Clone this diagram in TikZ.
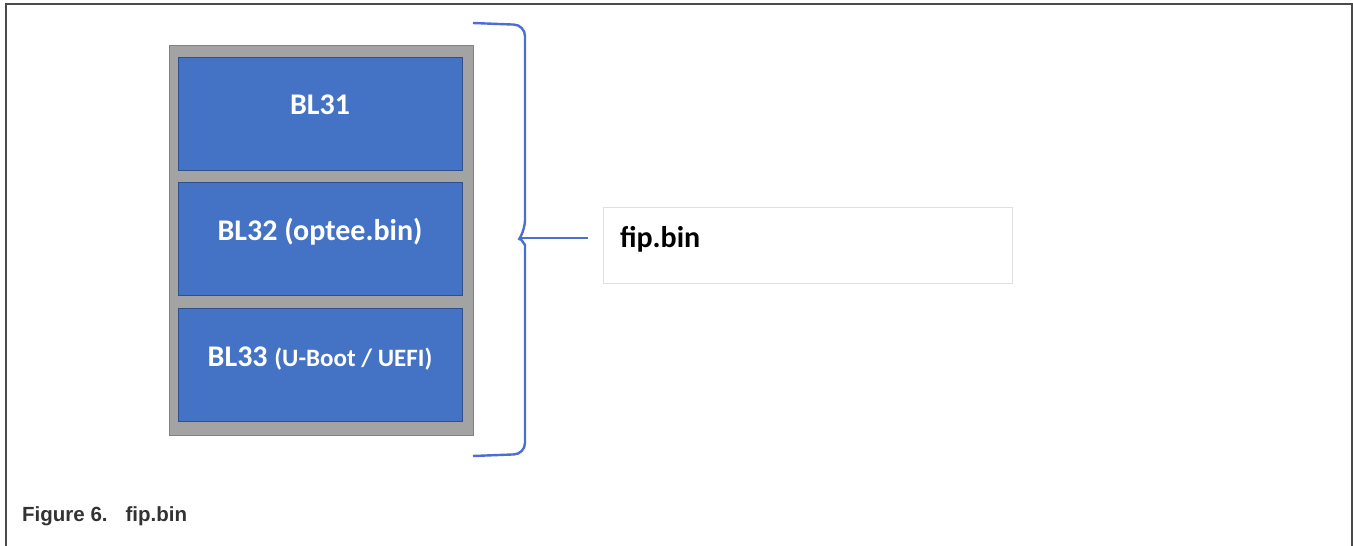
\documentclass[tikz,border=0pt]{standalone}
\usepackage{fontspec}
\setmainfont{Carlito}
\newfontfamily\capfont{Liberation Sans}
\usetikzlibrary{positioning}

\definecolor{blkblue}{HTML}{4472C4}
\definecolor{stackgray}{HTML}{A3A3A3}
\definecolor{bracecol}{HTML}{4A6ED2}
\definecolor{framegray}{HTML}{4A4A4A}
\definecolor{capgray}{HTML}{333333}

\begin{document}
\begin{tikzpicture}[x=1pt, y=-1pt, inner sep=0pt, node distance=12pt,
  stackbox/.style={fill=stackgray, draw=stackgray!80!black, minimum width=304pt, minimum height=390pt},
  blk/.style={fill=blkblue, draw=blkblue!70!black, line width=0.8pt, minimum width=284pt, minimum height=113pt,
    text=white, font=\bfseries\fontsize{30}{34}\selectfont, text height=21pt, text depth=19pt},
  bracel/.style={draw=bracecol, line width=2.4pt},
  fipbox/.style={draw=black!12, fill=white, minimum width=409pt, minimum height=76pt, inner xsep=17pt,
    text width=375pt, align=left, font=\bfseries\fontsize{30}{34}\selectfont, text height=22pt, text depth=18pt}]

\useasboundingbox (0,0) rectangle (1353,546);

% frame
\draw[framegray, line width=2.8pt] (6,546) -- (6,4) -- (1352,4) -- (1352,546);

% image stack
\node[stackbox] (stack) at (321,240) {};
\node[blk] (bl31) at (320,113.5) {BL31};
\node[blk] (bl32) [below=of bl31] {BL32 (optee.bin)};
\node[blk] (bl33) [below=of bl32] {BL33 {\fontsize{25}{28}\selectfont(U-Boot / UEFI)}};

% brace
\coordinate (tip) at (520,238);
\draw[bracel, rounded corners=11pt] (473,23) -- (525,25) -- (525,231)
  [sharp corners] -- (tip) -- (525,245)
  [rounded corners=11pt] -- (525,454) -- (473,456);

\node[fipbox] (fip) at (807.5,245) {fip.bin};
\draw[bracel, shorten >=15pt] (tip) -- (tip -| fip.west);

\node[anchor=base west, text=capgray, font=\capfont\bfseries\fontsize{20.5}{24}\selectfont] (cap) at (22,521)
  {Figure 6.\hspace{18pt}fip.bin};

\end{tikzpicture}
\end{document}
